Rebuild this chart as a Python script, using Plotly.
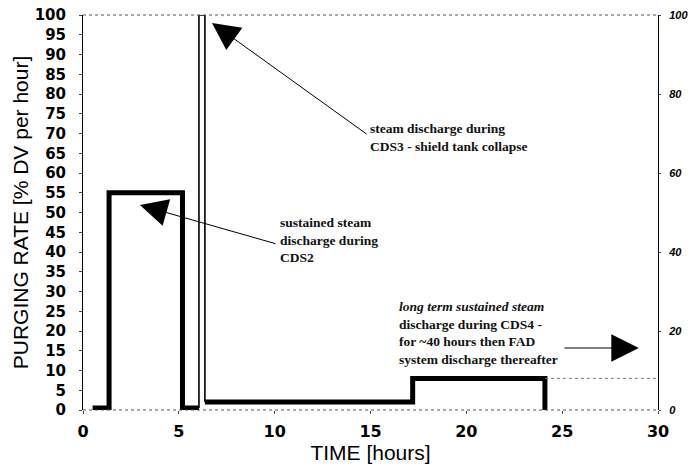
import plotly.graph_objects as go

# ---- data ----
step1_time = [0.5, 1.36, 5.19, 6.05]          # hours (step starts)
step1_rate = [0.5, 55, 0.5, 0.5]              # % DV per hour
spike_time = [6.05, 6.05, 6.36, 6.36]
spike_rate = [0.5, 100, 100, 2]
step2_time = [6.36, 17.2, 24.1, 24.1]
step2_rate = [2, 8, 8, 0]
tail_time = [24.1, 30]
tail_rate = [8, 8]

x_ticks = [0, 5, 10, 15, 20, 25, 30]
y_ticks = list(range(0, 101, 5))
y2_ticks = [0, 20, 40, 60, 80, 100]

ann1_text = "steam discharge during<br>CDS3 - shield tank collapse"
ann2_text = "sustained steam<br>discharge during<br>CDS2"
ann3_text = ("<i>long term sustained steam</i><br>discharge during CDS4 -<br>"
             "for ~40 hours then FAD<br>system discharge thereafter")

fig = go.Figure()
fig.add_trace(go.Scatter(x=step1_time, y=step1_rate, mode="lines",
                         line=dict(color="black", width=5, shape="hv"), showlegend=False))
fig.add_trace(go.Scatter(x=spike_time, y=spike_rate, mode="lines",
                         line=dict(color="black", width=1.6), showlegend=False))
fig.add_trace(go.Scatter(x=step2_time, y=step2_rate, mode="lines",
                         line=dict(color="black", width=5, shape="hv"), showlegend=False))
fig.add_trace(go.Scatter(x=tail_time, y=tail_rate, mode="lines",
                         line=dict(color="#777", width=1, dash="dot"), showlegend=False))
# dummy trace for right axis
fig.add_trace(go.Scatter(x=[None], y=[None], yaxis="y2", showlegend=False))

serif = "Liberation Serif"
txt_color = "#111"

for t, x, y in [(ann1_text, 14.87, 69.0), (ann2_text, 10.17, 43.0), (ann3_text, 16.38, 19.4)]:
    fig.add_annotation(x=x, y=y, xref="x", yref="y", text=t, showarrow=False,
                       xanchor="left", yanchor="middle", align="left",
                       font=dict(family=serif, size=13.5, weight="bold", color=txt_color))

arrows = [((6.73, 98.0), (14.87, 69.6)),
          ((2.97, 51.9), (10.12, 42.0)),
          ((29.0, 15.7), (25.04, 15.7))]
for (hx, hy), (tx, ty) in arrows:
    fig.add_annotation(x=hx, y=hy, ax=tx, ay=ty, xref="x", yref="y", axref="x", ayref="y",
                       text="", showarrow=True, arrowhead=2, arrowsize=5.5, arrowwidth=1,
                       arrowcolor="black")

# faint dotted top/bottom frame
fig.add_shape(type="line", xref="paper", yref="paper", x0=0, x1=1, y0=1, y1=1,
              line=dict(color="#555", width=1, dash="dot"))
fig.add_shape(type="line", xref="paper", yref="paper", x0=0, x1=1, y0=0, y1=0,
              line=dict(color="#555", width=1, dash="dot"))

fig.update_layout(
    width=688, height=467,
    margin=dict(l=83, r=30, t=15, b=57, autoexpand=False),
    paper_bgcolor="white", plot_bgcolor="white",
    xaxis=dict(range=[0, 30], tickvals=x_ticks, showgrid=False, zeroline=False,
               automargin=False,
               showline=False, ticks="outside", ticklen=3, tickcolor="#444",
               ticklabelstandoff=4,
               tickfont=dict(family="DejaVu Sans", size=16, weight="bold", color="black"),
               title=dict(text="TIME [hours]", standoff=2,
                          font=dict(family="Liberation Sans", size=21, color="black"))),
    yaxis=dict(range=[0, 100], tickvals=y_ticks, showgrid=False, zeroline=False,
               automargin=False,
               showline=True, linecolor="black", linewidth=1,
               ticks="outside", ticklen=3, tickcolor="#444", ticklabelstandoff=10,
               tickfont=dict(family="DejaVu Sans", size=15, weight="bold", color="black"),
               title=dict(text="PURGING RATE [% DV per hour]", standoff=0,
                          font=dict(family="Liberation Sans", size=21, color="black"))),
    yaxis2=dict(range=[0, 100], tickvals=y2_ticks, overlaying="y", side="right",
                automargin=False,
                showgrid=False, zeroline=False, showline=True, linecolor="black",
                linewidth=1, ticks="outside", ticklen=2, tickcolor="#444",
                ticklabelstandoff=6,
                tickfont=dict(family="Liberation Sans", size=11, weight="bold",
                              style="italic", color="black")),
)

fig.write_html("out.html")
